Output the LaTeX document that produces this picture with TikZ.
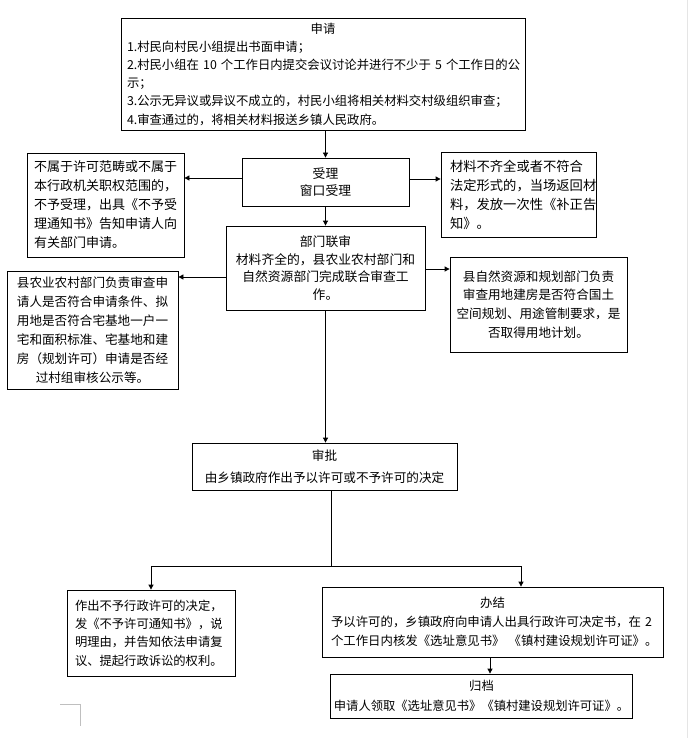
\documentclass[tikz,border=0pt]{standalone}
\usepackage{fontspec}
\newfontfamily\cjk{Noto Sans CJK SC}
\usetikzlibrary{arrows.meta}
\begin{document}
\begin{tikzpicture}[x=1pt,y=-1pt,
  box/.style={draw, line width=0.8pt, inner ysep=0pt},
  conn/.style={line width=0.8pt, -{Triangle[length=5pt,width=5pt]}},
  plain/.style={line width=0.8pt}]
\useasboundingbox[fill=white] (0,0) rectangle (688,738);

\node[box, minimum width=404pt, minimum height=112pt, text width=392pt, inner xsep=6pt, align=left,
  font=\cjk\fontsize{12.35}{18.2}\selectfont] (A) at (323,74)
  {\makebox[392pt]{申请}\\
   1.村民向村民小组提出书面申请；\\
   \mbox{2.村民小组在 10 个工作日内提交会议讨论并进行不少于 5 个工作日的公}\\
   示；\\
   3.公示无异议或异议不成立的，村民小组将相关材料交村级组织审查；\\
   4.审查通过的，将相关材料报送乡镇人民政府。};

\node[box, minimum width=167pt, minimum height=48pt, align=center,
  font=\cjk\fontsize{12.8}{17.5}\selectfont] (B) at (325.5,182)
  {受理\\窗口受理};

\node[box, minimum width=157pt, minimum height=104pt, text width=143pt, inner xsep=7pt, align=left,
  font=\cjk\fontsize{13}{19}\selectfont] (C) at (105.5,205)
  {不属于许可范畴或不属于\\本行政机关职权范围的，\\不予受理，出具《不予受\\理通知书》告知申请人向\\有关部门申请。};

\node[box, minimum width=155pt, minimum height=85pt, text width=137pt, inner xsep=9pt, align=left,
  font=\cjk\fontsize{13.3}{19}\selectfont] (D) at (518.5,195)
  {材料不齐全或者不符合\\法定形式的，当场返回材\\料，发放一次性《补正告\\知》。};

\node[box, minimum width=199pt, minimum height=84pt, align=center,
  font=\cjk\fontsize{12.8}{17.7}\selectfont] (E) at (325.5,268)
  {部门联审\\材料齐全的，县农业农村部门和\\自然资源部门完成联合审查工\\作。};

\node[box, minimum width=171pt, minimum height=118pt, align=center,
  font=\cjk\fontsize{12.6}{19}\selectfont] (F) at (92.5,330)
  {县农业农村部门负责审查申\\请人是否符合申请条件、拟\\用地是否符合宅基地一户一\\宅和面积标准、宅基地和建\\房（规划许可）申请是否经\\过村组审核公示等。};

\node[box, minimum width=177pt, minimum height=95pt, align=center,
  font=\cjk\fontsize{12.6}{18.8}\selectfont] (G) at (538.5,304.5)
  {县自然资源和规划部门负责\\审查用地建房是否符合国土\\空间规划、用途管制要求，是\\否取得用地计划。};

\node[box, minimum width=265pt, minimum height=47pt, align=center,
  font=\cjk\fontsize{12.6}{21.5}\selectfont] (H) at (324.5,466.5)
  {审批\\由乡镇政府作出予以许可或不予许可的决定};

\node[box, minimum width=168pt, minimum height=86pt, text width=152pt, inner xsep=8pt, align=left,
  font=\cjk\fontsize{12.3}{18.3}\selectfont] (I) at (151,633)
  {作出不予行政许可的决定，\\发《不予许可通知书》，说\\明理由，并告知依法申请复\\议、提起行政诉讼的权利。};

\node[box, minimum width=341pt, minimum height=70pt, text width=323pt, inner xsep=9pt, align=left,
  font=\cjk\fontsize{12.4}{19}\selectfont] (J) at (492.5,622)
  {\makebox[323pt]{办结}\\
   \mbox{予以许可的，乡镇政府向申请人出具行政许可决定书，在 2}\\
   \mbox{个工作日内核发《选址意见书》 《镇村建设规划许可证》。}};

\node[box, minimum width=301pt, minimum height=44pt, align=center,
  font=\cjk\fontsize{12.3}{20}\selectfont] (K) at (481.5,696)
  {归档\\申请人领取《选址意见书》《镇村建设规划许可证》。};

% connectors
\draw[conn] (A.south -| B.north) -- (B.north);
\coordinate (bl) at ([yshift=4pt]B.west);
\draw[conn] (bl) -- (bl -| C.east);
\coordinate (br) at ([yshift=3pt]B.east);
\draw[conn] (br) -- (br -| D.west);
\draw[conn] (B.south) -- (B.south |- E.north);
\coordinate (el) at ([yshift=-9pt]E.west);
\draw[conn] (el) -- (el -| F.east);
\coordinate (er) at ([yshift=-1pt]E.east);
\draw[conn] (er) -- (er -| G.west);
\draw[conn] (E.south) -- (E.south |- H.north);
\coordinate (S) at (331,566);
\draw[plain] (H.south -| S) -- (S);
\draw[conn] (S) -| (I.north);
\coordinate (Jin) at ([xshift=28.5pt]J.north);
\draw[conn] (S) -| (Jin);
\coordinate (Jout) at ([xshift=-2.5pt]J.south);
\draw[conn] (Jout) -- (Jout |- K.north);

% page marks
\draw[gray!50, line width=0.6pt] (60,704) -- (80.7,704) -- (80.7,725.7);
\draw[gray!20, line width=1pt] (687.5,0) -- (687.5,738);
\end{tikzpicture}
\end{document}
